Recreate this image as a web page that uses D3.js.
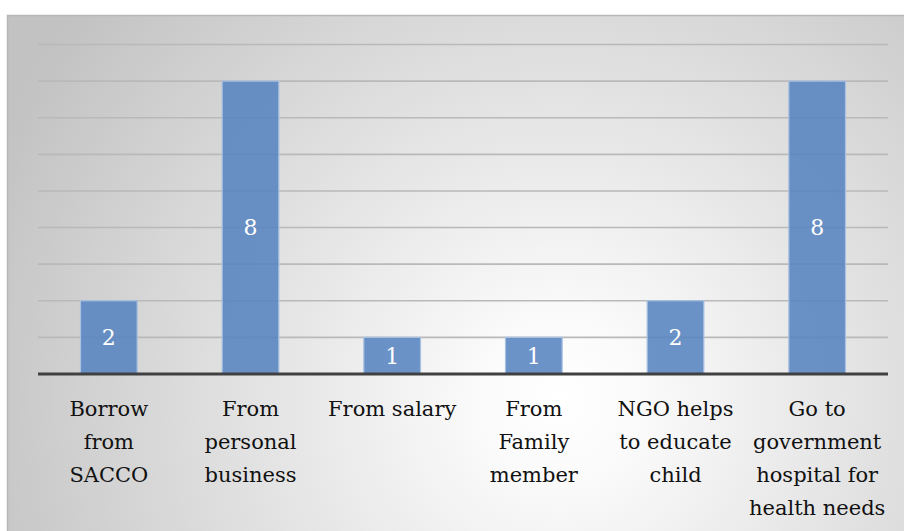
<!DOCTYPE html>
<html>
<head>
<meta charset="utf-8">
<script src="https://cdn.jsdelivr.net/npm/d3@7/dist/d3.min.js"></script>
<style>
  html, body { margin: 0; padding: 0; background: #fff; }
  svg { display: block; }
  .serif { font-family: "DejaVu Serif"; }
</style>
</head>
<body>
<script>
// Sources of support and how many respondents named each
const categories = [
  ["Borrow", "from", "SACCO"],
  ["From", "personal", "business"],
  ["From salary"],
  ["From", "Family", "member"],
  ["NGO helps", "to educate", "child"],
  ["Go to", "government", "hospital for", "health needs"]
];
const values = [2, 8, 1, 1, 2, 8];
const yTicks = [0, 1, 2, 3, 4, 5, 6, 7, 8, 9];

(function () {
  const W = 904, H = 531;
  const svg = d3.select("body").append("svg").attr("width", W).attr("height", H);

  // Panel background: soft radial shading
  const defs = svg.append("defs");
  const grad = defs.append("radialGradient")
    .attr("id", "bg").attr("gradientUnits", "userSpaceOnUse")
    .attr("cx", 560).attr("cy", 400).attr("r", 620);
  grad.append("stop").attr("offset", "0%").attr("stop-color", "#ffffff");
  grad.append("stop").attr("offset", "12%").attr("stop-color", "#fbfbfb");
  grad.append("stop").attr("offset", "100%").attr("stop-color", "#c2c2c2");

  svg.append("rect").attr("x", 7).attr("y", 15).attr("width", W - 7).attr("height", H - 15)
    .attr("fill", "url(#bg)");
  svg.append("path").attr("d", `M7.5,${H} V15.5 H${W}`)
    .attr("fill", "none").attr("stroke", "#b8b8b8").attr("stroke-width", 1.5);

  const plotL = 38, plotR = 888, plotT = 44.5, plotB = 374;
  const x = d3.scaleBand().domain(d3.range(values.length)).range([plotL, plotR])
    .paddingInner(0.6).paddingOuter(0.3);
  const y = d3.scaleLinear().domain([0, 9]).range([plotB, plotT]);

  // Horizontal gridlines
  svg.append("g").selectAll("line").data(yTicks.slice(1)).join("line")
    .attr("x1", plotL).attr("x2", plotR)
    .attr("y1", d => y(d)).attr("y2", d => y(d))
    .attr("stroke", "#b9b9b9").attr("stroke-width", 1.6);

  // Bars
  svg.append("g").selectAll("rect").data(values).join("rect")
    .attr("x", (d, i) => x(i)).attr("width", x.bandwidth())
    .attr("y", d => y(d)).attr("height", d => y(0) - y(d))
    .attr("fill", "#5684c0").attr("fill-opacity", 0.88)
    .attr("stroke", "#a9c1e2").attr("stroke-width", 1.2);

  // Value labels centred in each bar
  svg.append("g").selectAll("text").data(values).join("text")
    .attr("class", "serif")
    .attr("x", (d, i) => x(i) + x.bandwidth() / 2)
    .attr("y", d => (y(d) + y(0)) / 2)
    .attr("dy", "0.36em").attr("text-anchor", "middle")
    .attr("font-size", 22).attr("fill", "#ffffff")
    .text(d => d);

  // Baseline
  svg.append("line").attr("x1", plotL).attr("x2", plotR)
    .attr("y1", plotB).attr("y2", plotB)
    .attr("stroke", "#404040").attr("stroke-width", 3);

  // Category labels, wrapped
  const lab = svg.append("g").selectAll("text").data(categories).join("text")
    .attr("class", "serif")
    .attr("text-anchor", "middle")
    .attr("font-size", 21).attr("fill", "#111");
  lab.each(function (lines, i) {
    const t = d3.select(this);
    lines.forEach((ln, k) => {
      t.append("tspan")
        .attr("x", x(i) + x.bandwidth() / 2)
        .attr("y", 416 + k * 33)
        .text(ln);
    });
  });
})();
</script>
</body>
</html>
